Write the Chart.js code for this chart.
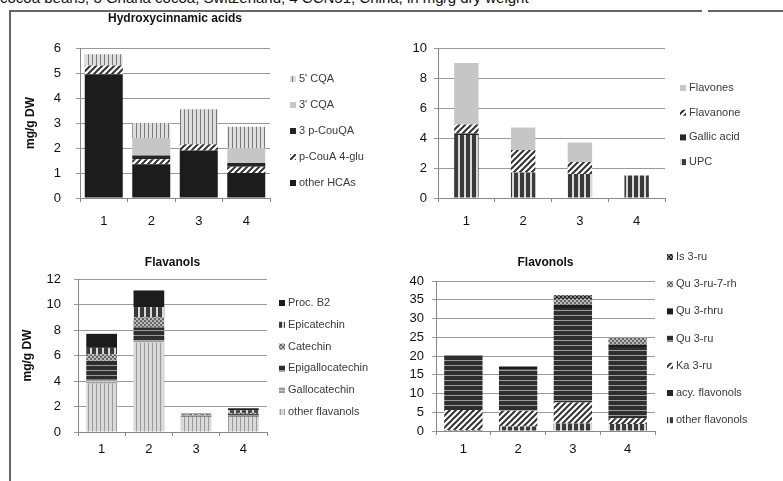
<!DOCTYPE html>
<html>
<head>
<meta charset="utf-8">
<script src="https://cdn.jsdelivr.net/npm/chart.js@4.4.1/dist/chart.umd.min.js"></script>
<style>
  html, body { margin: 0; padding: 0; background: #fff; }
  #page { position: relative; width: 783px; height: 481px; overflow: hidden; font-family: "Liberation Sans", Arial, sans-serif; }
  #caption { position: absolute; left: 0; top: -11px; font-size: 15px; white-space: nowrap; color: #111; }
  .rule { position: absolute; background: #666; }
  .panel { position: absolute; }
</style>
</head>
<body>
<div id="page">
  <div id="caption">cocoa beans, 3 Ghana cocoa, Switzerland, 4 CCN51, China, in mg/g dry weight</div>
  <div class="rule" style="left:10px;top:10px;width:692px;height:2px"></div>
  <div class="rule" style="left:708px;top:10px;width:75px;height:2px"></div>
  <div class="rule" style="left:9px;top:10px;width:2px;height:471px"></div>
  <div class="panel" style="left:0;top:0"><canvas id="hcaChart" width="392" height="240"></canvas></div>
  <div class="panel" style="left:392px;top:0"><canvas id="otherChart" width="391" height="240"></canvas></div>
  <div class="panel" style="left:0;top:240px"><canvas id="flavanolChart" width="392" height="241"></canvas></div>
  <div class="panel" style="left:392px;top:240px"><canvas id="flavonolChart" width="391" height="241"></canvas></div>
</div>
<script>
// --- data (mg/g DW), stacked bottom -> top ---
const categories = ['1', '2', '3', '4'];

// Hydroxycinnamic acids
const hcaOther   = [4.95, 1.35, 1.9, 1.0];
const hcaCouA4   = [0.35, 0.2, 0.25, 0.25];
const hcaCouQA   = [0, 0.15, 0, 0.15];
const hca3CQA    = [0, 0.7, 0, 0.6];
const hca5CQA    = [0.45, 0.6, 1.4, 0.85];

// UPC / gallic acid / flavanone / flavones
const upcVals      = [4.2, 1.7, 1.6, 1.5];
const gallicVals   = [0.1, 0, 0, 0];
const flavanoneVal = [0.6, 1.5, 0.8, 0];
const flavonesVals = [4.1, 1.5, 1.3, 0];

// Flavanols
const fnOther     = [3.8, 7.0, 1.2, 1.2];
const fnGallocat  = [0.3, 0.2, 0, 0];
const fnEpigallo  = [1.5, 1.0, 0.1, 0.2];
const fnCatechin  = [0.5, 0.8, 0.05, 0.1];
const fnEpicat    = [0.5, 0.8, 0.05, 0.2];
const fnProcB2    = [1.1, 1.3, 0.04, 0.16];

// Flavonols
const flOther   = [0.3, 1.2, 2.0, 1.9];
const flAcy     = [0, 0, 0, 0];
const flKa3ru   = [5.3, 4.2, 5.6, 1.5];
const flQu3ru   = [14.7, 11.1, 25.2, 19.0];
const flQu3rhru = [0, 0.7, 0.9, 0.6];
const flQu3ru7  = [0, 0, 1.5, 1.8];
const flIs3ru   = [0, 0, 1.0, 0];

// --- fill patterns (grey scale, like the printed figure) ---
function pattern(bg, fg, kind, size, lw) {
    const c = document.createElement('canvas');
    c.width = c.height = size;
    const g = c.getContext('2d');
    g.fillStyle = bg;
    g.fillRect(0, 0, size, size);
    g.fillStyle = fg;
    g.strokeStyle = fg;
    if (kind === 'v') g.fillRect(0, 0, lw || 1, size);
    if (kind === 'h') g.fillRect(0, 0, size, lw || 1);
    if (kind === 'c') {
        g.fillRect(0, 0, size / 2, size / 2);
        g.fillRect(size / 2, size / 2, size / 2, size / 2);
    }
    if (kind === 'd') {
        g.lineWidth = lw || 2;
        g.beginPath();
        g.moveTo(0, size); g.lineTo(size, 0);
        g.moveTo(-2, 2); g.lineTo(2, -2);
        g.moveTo(size - 2, size + 2); g.lineTo(size + 2, size - 2);
        g.stroke();
    }
    return g.createPattern(c, 'repeat');
}

const fills = {
    dark: '#1c1c1c',
    darker: '#262626',
    light: '#c6c6c6',
    hatch: pattern('#ffffff', '#333333', 'd', 6, 2),
    vLight: pattern('#dedede', '#7a7a7a', 'v', 4, 1),
    vDark: pattern('#3a3a3a', '#d8d8d8', 'v', 6, 2),
    vPale: pattern('#d9d9d9', '#9a9a9a', 'v', 4, 1),
    hDark: pattern('#2e2e2e', '#9c9c9c', 'h', 5, 1),
    hGrey: pattern('#9a9a9a', '#d0d0d0', 'h', 3, 1),
    checkGrey: pattern('#bbbbbb', '#666666', 'c', 4),
    checkDark: pattern('#888888', '#222222', 'c', 4)
};

// legend drawn at a fixed spot to the right of each plot, top item = top of stack
const sideLegend = {
    id: 'sideLegend',
    afterDraw(chart, args, opts) {
        const ctx = chart.ctx;
        const sets = chart.data.datasets.slice().reverse();
        ctx.save();
        ctx.font = '11px "Liberation Sans", Arial, sans-serif';
        ctx.textBaseline = 'middle';
        sets.forEach((ds, i) => {
            const y = opts.y + i * opts.gap;
            ctx.fillStyle = ds.backgroundColor;
            ctx.fillRect(opts.x, y - 3, 6, 6);
            ctx.fillStyle = '#3a3a3a';
            ctx.fillText(ds.label, opts.x + 9, y);
        });
        ctx.restore();
    }
};

function ds(label, data, fill) {
    return { label: label, data: data, backgroundColor: fill, borderWidth: 0 };
}

function buildChart(id, sets, p) {
    const gridColor = '#9a9a9a';
    const font = '"Liberation Sans", Arial, sans-serif';
    return new Chart(document.getElementById(id), {
        type: 'bar',
        data: { labels: categories, datasets: sets },
        plugins: [sideLegend],
        options: {
            responsive: false,
            animation: false,
            layout: { padding: { left: 0, right: p.right, top: p.top, bottom: 0 } },
            datasets: { bar: { barPercentage: p.barPct, categoryPercentage: 1 } },
            plugins: {
                legend: { display: false },
                tooltip: { enabled: false },
                title: {
                    display: !!p.title,
                    text: p.title || '',
                    fullSize: false,
                    color: '#111',
                    font: { family: font, size: 12, weight: 'bold' },
                    padding: { top: p.titleTop || 0, bottom: p.titleBottom || 0 }
                },
                sideLegend: { x: p.legendX, y: p.legendY, gap: p.legendGap }
            },
            scales: {
                x: {
                    stacked: true,
                    grid: { offset: true, drawOnChartArea: false, drawTicks: true, tickLength: 4, color: '#888' },
                    border: { color: '#888' },
                    ticks: { color: '#111', padding: p.xPad, font: { family: font, size: 13 } },
                    afterFit: s => { s.height = p.xHeight; }
                },
                y: {
                    stacked: true,
                    min: 0,
                    max: p.max,
                    grid: { color: gridColor, tickLength: 4, drawTicks: true },
                    border: { color: '#888' },
                    ticks: { stepSize: p.step, color: '#111', padding: p.yPad, font: { family: font, size: 13 } },
                    title: {
                        display: !!p.yTitle,
                        text: p.yTitle || '',
                        color: '#111',
                        font: { family: font, size: 12, weight: 'bold' },
                        padding: { top: p.yTitlePad || 0, bottom: 0 }
                    },
                    afterFit: s => { s.width = p.yWidth; }
                }
            }
        }
    });
}

buildChart('hcaChart', [
    ds('other HCAs', hcaOther, fills.dark),
    ds('p-CouA 4-glu', hcaCouA4, fills.hatch),
    ds('3 p-CouQA', hcaCouQA, fills.darker),
    ds("3' CQA", hca3CQA, fills.light),
    ds("5' CQA", hca5CQA, fills.vLight)
], {
    title: 'Hydroxycinnamic acids', titleTop: 11, titleBottom: 22.6,
    top: 0, right: 122, xHeight: 42, xPad: 12, yWidth: 80, yPad: 15,
    yTitle: 'mg/g DW', yTitlePad: 23, max: 6, step: 1, barPct: 0.8,
    legendX: 290, legendY: 79, legendGap: 26
});

buildChart('otherChart', [
    ds('UPC', upcVals, fills.vDark),
    ds('Gallic acid', gallicVals, fills.darker),
    ds('Flavanone', flavanoneVal, fills.hatch),
    ds('Flavones', flavonesVals, fills.light)
], {
    top: 48, right: 118, xHeight: 42, xPad: 12, yWidth: 46, yPad: 7,
    max: 10, step: 2, barPct: 0.43,
    legendX: 288, legendY: 88, legendGap: 24.7
});

buildChart('flavanolChart', [
    ds('other flavanols', fnOther, fills.vPale),
    ds('Gallocatechin', fnGallocat, fills.hGrey),
    ds('Epigallocatechin', fnEpigallo, fills.hDark),
    ds('Catechin', fnCatechin, fills.checkGrey),
    ds('Epicatechin', fnEpicat, fills.vDark),
    ds('Proc. B2', fnProcB2, fills.dark)
], {
    title: 'Flavanols', titleTop: 15, titleBottom: 9.6,
    top: 0, right: 125, xHeight: 49, xPad: 6, yWidth: 78, yPad: 13,
    yTitle: 'mg/g DW', yTitlePad: 20, max: 12, step: 2, barPct: 0.65,
    legendX: 279, legendY: 63, legendGap: 21.8
});

buildChart('flavonolChart', [
    ds('other flavonols', flOther, fills.vDark),
    ds('acy. flavonols', flAcy, fills.darker),
    ds('Ka 3-ru', flKa3ru, fills.hatch),
    ds('Qu 3-ru', flQu3ru, fills.hDark),
    ds('Qu 3-rhru', flQu3rhru, fills.dark),
    ds('Qu 3-ru-7-rh', flQu3ru7, fills.checkGrey),
    ds('Is 3-ru', flIs3ru, fills.checkDark)
], {
    title: 'Flavonols', titleTop: 15, titleBottom: 11.6,
    top: 0, right: 128, xHeight: 50, xPad: 7, yWidth: 44, yPad: 8,
    max: 40, step: 5, barPct: 0.7,
    legendX: 275, legendY: 17, legendGap: 27.2
});
</script>
</body>
</html>
